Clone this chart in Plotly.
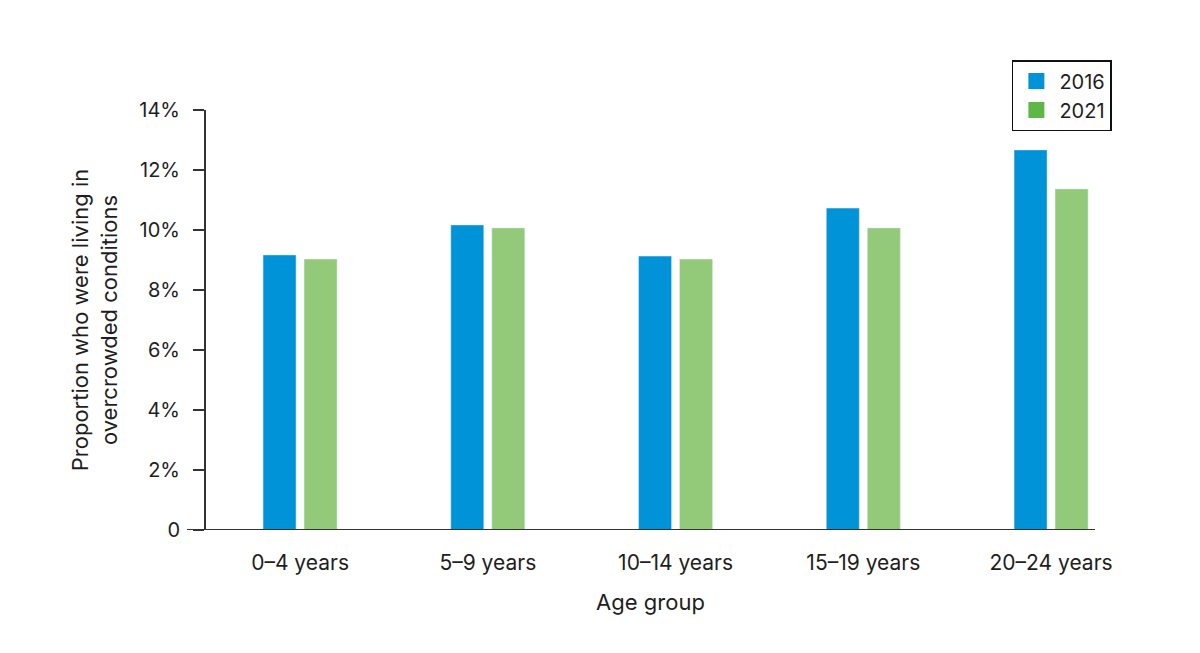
import plotly.graph_objects as go

# Data
age_groups = ['0–4 years', '5–9 years', '10–14 years', '15–19 years', '20–24 years']
pct_2016 = [9.17, 10.17, 9.13, 10.73, 12.67]
pct_2021 = [9.03, 10.07, 9.03, 10.07, 11.37]

y_ticks = [0, 2, 4, 6, 8, 10, 12, 14]
y_tick_labels = ['0', '2%', '4%', '6%', '8%', '10%', '12%', '14%']

blue = '#0093d7'
green_bar = '#93ca7a'
green_key = '#5cb947'
font = 'Inter, Lato, sans-serif'
ink = '#1e1e1e'

# Bars (legend drawn with separate keys since the 2021 swatch is brighter than its bars)
trace1 = go.Bar(x=age_groups, y=pct_2016, name='2016', marker=dict(color=blue), showlegend=False)
trace2 = go.Bar(x=age_groups, y=pct_2021, name='2021', marker=dict(color=green_bar), showlegend=False)
key1 = go.Scatter(x=[None], y=[None], mode='markers', name='2016',
                  marker=dict(color=blue, symbol='square', size=17))
key2 = go.Scatter(x=[None], y=[None], mode='markers', name='2021',
                  marker=dict(color=green_key, symbol='square', size=17))

layout = go.Layout(
    width=1200, height=653,
    paper_bgcolor='white', plot_bgcolor='white',
    margin=dict(l=198, r=113, t=102, b=131, autoexpand=False),
    font=dict(family=font, size=21, color=ink),
    barmode='group', bargap=0.563, bargroupgap=0.195,
    xaxis=dict(
        type='category', range=[-0.501, 4.234],
        showline=False, showgrid=False, zeroline=False,
        ticks='outside', ticklen=14, tickcolor='rgba(0,0,0,0)',
        tickfont=dict(size=21),
        title=dict(text='Age group', standoff=20, font=dict(size=22)),
    ),
    yaxis=dict(
        range=[0, 14], tickvals=y_ticks, ticktext=y_tick_labels,
        showline=True, linecolor='#333333', linewidth=2,
        ticks='outside', ticklen=11, tickwidth=2, tickcolor='#333333',
        ticklabelstandoff=9, tickfont=dict(size=20),
        showgrid=False, zeroline=False,
        title=dict(text='Proportion who were living in<br>overcrowded conditions',
                   standoff=16, font=dict(size=22)),
    ),
    legend=dict(
        x=0.9065, y=1.119, xanchor='left', yanchor='top',
        bordercolor='#111111', borderwidth=1.5, bgcolor='white',
        font=dict(size=20), itemwidth=36, tracegroupgap=0,
    ),
    shapes=[dict(type='line', xref='paper', yref='y', x0=-0.0214, x1=1, y0=0, y1=0,
                 line=dict(color='#333333', width=2))],
)

fig = go.Figure(data=[trace1, trace2, key1, key2], layout=layout)
fig.write_html('out.html')
